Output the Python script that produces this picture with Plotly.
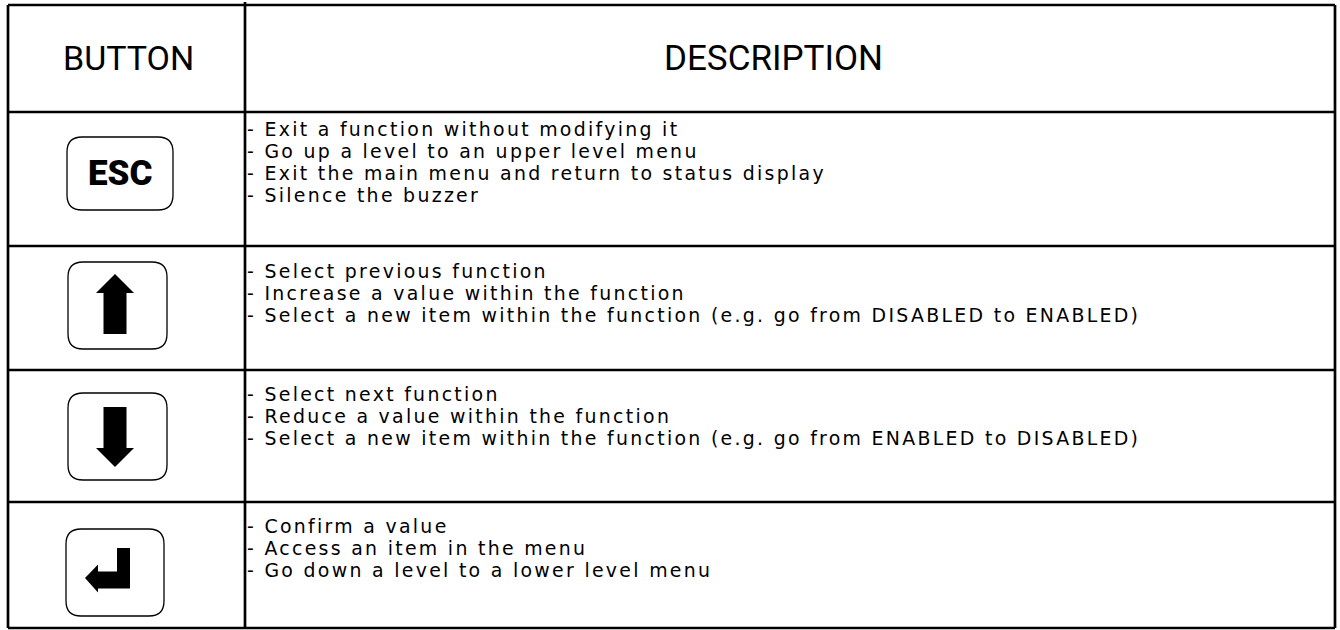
import plotly.graph_objects as go

# ---------------- data ----------------
headers = ["BUTTON", "DESCRIPTION"]
buttons = ["ESC", "UP", "DOWN", "ENTER"]
desc_esc = ["- Exit a function without modifying it",
            "- Go up a level to an upper level menu",
            "- Exit the main menu and return to status display",
            "- Silence the buzzer"]
desc_up = ["- Select previous function",
           "- Increase a value within the function",
           "- Select a new item within the function (e.g. go from DISABLED to ENABLED)"]
desc_down = ["- Select next function",
             "- Reduce a value within the function",
             "- Select a new item within the function (e.g. go from ENABLED to DISABLED)"]
desc_enter = ["- Confirm a value",
              "- Access an item in the menu",
              "- Go down a level to a lower level menu"]
descriptions = [desc_esc, desc_up, desc_down, desc_enter]

# ---------------- layout geometry (pixels) ----------------
W, H = 1340, 630
LEFT, RIGHT, TOP, BOTTOM = 8, 1335, 5, 628
COL_X = 245
ROW_Y = [112, 246, 370, 502]            # header bottom + row separators
LINE_W = 2.7
BTN_BOX = [(67, 173, 137, 210), (68, 167, 262, 349), (68, 167, 393, 480), (66, 164, 529, 616)]
FIRST_LINE_Y = [129, 271, 394, 526]
LINE_STEP = 22
TEXT_X = 247

DESC_FONT = dict(family="DejaVu Sans", size=18.9, color="black")
DESC_STYLE = "letter-spacing:2.3px"
HEAD_FONT = dict(family="Roboto", size=34, color="black")

fig = go.Figure()
fig.add_trace(go.Scatter(x=[0, W], y=[0, H], mode="markers", marker=dict(opacity=0),
                         hoverinfo="skip", showlegend=False))

shapes = []
def line(x0, y0, x1, y1, w=LINE_W):
    shapes.append(dict(type="line", x0=x0, y0=y0, x1=x1, y1=y1, xref="x", yref="y",
                       line=dict(color="black", width=w)))

# table grid
line(LEFT, TOP, RIGHT, TOP)
line(LEFT, BOTTOM, RIGHT, BOTTOM)
line(LEFT, TOP, LEFT, BOTTOM)
line(RIGHT, TOP, RIGHT, BOTTOM)
line(COL_X, TOP - 3, COL_X, BOTTOM)
for y in ROW_Y:
    line(LEFT, y, RIGHT, y)

def rounded_rect(x0, x1, y0, y1, r=15):
    return (f"M {x0+r},{y0} L {x1-r},{y0} Q {x1},{y0} {x1},{y0+r} "
            f"L {x1},{y1-r} Q {x1},{y1} {x1-r},{y1} L {x0+r},{y1} "
            f"Q {x0},{y1} {x0},{y1-r} L {x0},{y0+r} Q {x0},{y0} {x0+r},{y0} Z")

def poly(pts, cx, cy):
    return "M " + " L ".join(f"{cx+px},{cy+py}" for px, py in pts) + " Z"

# icon outlines in local coordinates (relative to icon centre)
ICON_UP = [(0, -30), (19, -11), (11.5, -11), (11.5, 30), (-11.5, 30), (-11.5, -11), (-19, -11)]
ICON_DOWN = [(x, -y) for x, y in ICON_UP]
ICON_ENTER = [(2, -24.5), (15, -24.5), (15, 16), (-17, 16), (-17, 20), (-30, 5.5),
              (-17, -8), (-17, -1), (2, -1)]
ICONS = {"UP": (ICON_UP, 115, 304), "DOWN": (ICON_DOWN, 115, 437), "ENTER": (ICON_ENTER, 115, 572.5)}

for name, (bx0, bx1, by0, by1) in zip(buttons, BTN_BOX):
    shapes.append(dict(type="path", path=rounded_rect(bx0, bx1, by0, by1), xref="x", yref="y",
                       line=dict(color="black", width=1.3), fillcolor="white"))
    if name in ICONS:
        pts, cx, cy = ICONS[name]
        shapes.append(dict(type="path", path=poly(pts, cx, cy), xref="x", yref="y",
                           line=dict(width=0), fillcolor="black"))

annotations = []
annotations.append(dict(x=128, y=58, text=headers[0], showarrow=False, xref="x", yref="y",
                        xanchor="center", yanchor="middle", font=HEAD_FONT))
annotations.append(dict(x=773, y=58, text=headers[1], showarrow=False, xref="x", yref="y",
                        xanchor="center", yanchor="middle", font=dict(HEAD_FONT, size=35)))
annotations.append(dict(x=120, y=173, text=buttons[0], showarrow=False, xref="x", yref="y",
                        xanchor="center", yanchor="middle",
                        font=dict(family="Roboto", size=35, color="black", weight=900)))

for lines, y0 in zip(descriptions, FIRST_LINE_Y):
    for k, t in enumerate(lines):
        annotations.append(dict(x=TEXT_X, y=y0 + k * LINE_STEP,
                                text=f'<span style="{DESC_STYLE}">{t}</span>',
                                showarrow=False, xref="x", yref="y", xanchor="left",
                                yanchor="middle", font=DESC_FONT, borderpad=0, borderwidth=0))

fig.update_layout(
    width=W, height=H, margin=dict(l=0, r=0, t=0, b=0),
    paper_bgcolor="white", plot_bgcolor="white",
    xaxis=dict(range=[0, W], visible=False, fixedrange=True),
    yaxis=dict(range=[H, 0], visible=False, fixedrange=True),
    shapes=shapes, annotations=annotations, showlegend=False,
)
fig.write_html("out.html", config={"displayModeBar": False},
               post_script="document.body.style.margin='0';")
